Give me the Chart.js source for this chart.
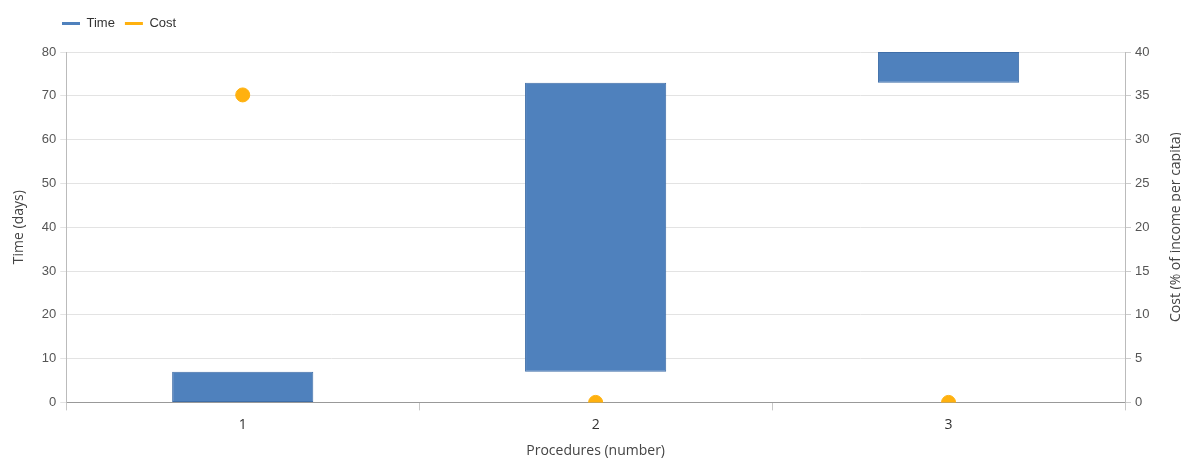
<!DOCTYPE html>
<html>
<head>
<meta charset="utf-8">
<script src="https://cdn.jsdelivr.net/npm/chart.js@4"></script>
<style>
  html, body { margin: 0; padding: 0; background: #fff; }
  #wrap { width: 1181px; height: 459px; }
</style>
</head>
<body>
<div id="wrap"><canvas id="chart"></canvas></div>
<script>
const procedures = ['1', '2', '3'];
const timeStart = [0, 7, 73];
const timeEnd = [7, 73, 80];
const costValues = [35.1, 0, 0];

const yTicksLeft = { min: 0, max: 80, step: 10 };
const yTicksRight = { min: 0, max: 40, step: 5 };
const rightTitle = 'Cost (% of income per capita)';

// shift legend right and add a gap under it
const legendTweak = {
    id: 'legendTweak',
    beforeInit(chart) {
        const fit = chart.legend.fit;
        chart.legend.fit = function () {
            fit.bind(this)();
            this.height += 12;
        };
    },
    afterLayout(chart) {
        chart.legend.left += 41;
        chart.legend.right += 41;
    }
};

// right axis title drawn bottom-to-top like the left one
const rightTitlePlugin = {
    id: 'rightTitle',
    afterDraw(chart) {
        const c = chart.ctx;
        const area = chart.chartArea;
        c.save();
        c.translate(chart.width - 5, (area.top + area.bottom) / 2);
        c.rotate(-Math.PI / 2);
        c.font = '14px "Open Sans"';
        c.fillStyle = '#444';
        c.textAlign = 'center';
        c.textBaseline = 'middle';
        c.fillText(rightTitle, 0, 0);
        c.restore();
    }
};

const ctx = document.getElementById('chart').getContext('2d');

const chart = new Chart(ctx, {
    type: 'bar',
    data: {
        labels: procedures,
        datasets: [{
            label: 'Cost',
            type: 'line',
            data: costValues,
            yAxisID: 'y1',
            showLine: false,
            borderColor: '#ffb10f',
            backgroundColor: '#ffb10f',
            pointRadius: 7,
            pointHoverRadius: 8,
            order: 0
        }, {
            label: 'Time',
            data: timeStart.map((s, i) => [s, timeEnd[i]]),
            yAxisID: 'y',
            backgroundColor: '#4f81bd',
            borderColor: '#3f6ea8',
            borderWidth: 1,
            borderSkipped: false,
            barPercentage: 0.4,
            categoryPercentage: 1,
            order: 1
        }]
    },
    plugins: [legendTweak, rightTitlePlugin],
    options: {
        responsive: true,
        maintainAspectRatio: false,
        animation: false,
        layout: {
            padding: { left: 11, right: 0, top: 7, bottom: 0 }
        },
        plugins: {
            legend: {
                align: 'start',
                reverse: true,
                labels: {
                    usePointStyle: true,
                    pointStyle: 'line',
                    pointStyleWidth: 18,
                    boxHeight: 3,
                    padding: 10,
                    color: '#333',
                    font: { family: 'Liberation Sans', size: 13 },
                    generateLabels: (c) => {
                        const items = Chart.defaults.plugins.legend.labels.generateLabels(c);
                        items.forEach(it => {
                            const ds = c.data.datasets[it.datasetIndex];
                            it.strokeStyle = ds.backgroundColor;
                            it.fillStyle = ds.backgroundColor;
                            it.lineWidth = 3;
                        });
                        return items;
                    }
                }
            },
            tooltip: { enabled: false }
        },
        scales: {
            x: {
                offset: true,
                grid: {
                    offset: true,
                    drawOnChartArea: false,
                    tickLength: 8,
                    color: '#c8c8c8'
                },
                border: { color: '#999' },
                ticks: {
                    color: '#333',
                    font: { family: 'Open Sans', size: 14 },
                    padding: 6
                },
                title: {
                    display: true,
                    text: 'Procedures (number)',
                    color: '#444',
                    font: { family: 'Open Sans', size: 14 },
                    padding: { top: 3, bottom: 0 }
                }
            },
            y: {
                position: 'left',
                min: yTicksLeft.min,
                max: yTicksLeft.max,
                ticks: {
                    stepSize: yTicksLeft.step,
                    color: '#555',
                    font: { family: 'Liberation Sans', size: 13 },
                    padding: 4
                },
                grid: {
                    color: '#e3e3e3',
                    tickLength: 6
                },
                border: { color: '#bbb' },
                title: {
                    display: true,
                    text: 'Time (days)',
                    color: '#444',
                    font: { family: 'Open Sans', size: 14 },
                    padding: { top: 0, bottom: 10 }
                }
            },
            y1: {
                position: 'right',
                min: yTicksRight.min,
                max: yTicksRight.max,
                afterFit: (scale) => { scale.width = 56; },
                ticks: {
                    stepSize: yTicksRight.step,
                    color: '#555',
                    font: { family: 'Liberation Sans', size: 13 },
                    padding: 4
                },
                grid: {
                    drawOnChartArea: false,
                    color: '#ccc',
                    tickLength: 6
                },
                border: { color: '#bbb' }
            }
        }
    }
});
</script>
</body>
</html>
